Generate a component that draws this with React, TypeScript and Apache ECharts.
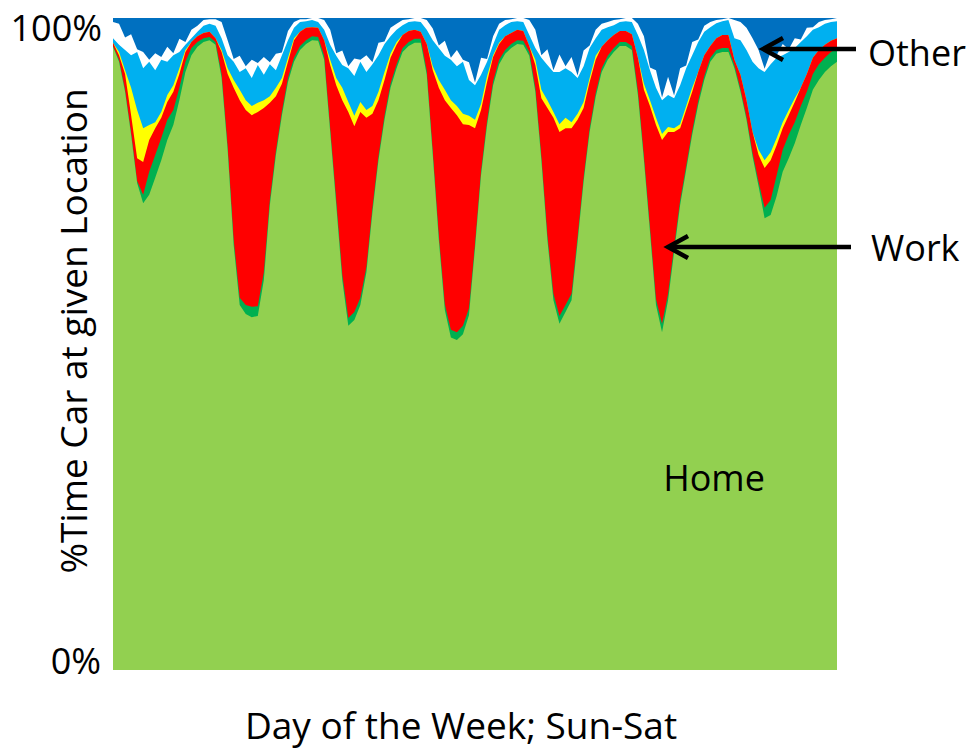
import { useEffect, useRef } from "react";
import * as echarts from "echarts";

// 121 samples spread evenly over one week (Sun-Sat); values are cumulative % (top edge of each band)
const sampleCount = 121;
const categories: string[] = Array.from({ length: sampleCount }, (_, i) => String(i));

const homeTop = [
  95.6, 93.3, 88.7, 82.1, 74.7, 71.6, 72.9, 75.5, 78.2, 81.3,
  83.6, 87.4, 91.7, 94.3, 95.6, 96.3, 96.6, 95.9, 90.8, 79.8,
  65.2, 56.0, 54.6, 54.1, 54.3, 59.8, 71.3, 79.0, 85.1, 90.2,
  93.3, 95.1, 96.0, 96.6, 96.5, 93.6, 82.5, 71.3, 59.8, 52.8,
  53.7, 56.0, 61.0, 70.2, 78.2, 84.4, 89.3, 92.3, 94.8, 95.7,
  96.2, 96.2, 91.3, 79.0, 66.0, 55.2, 51.0, 50.6, 51.5, 54.4,
  64.7, 75.9, 83.6, 89.7, 92.9, 94.5, 95.4, 96.0, 95.9, 94.2,
  88.7, 78.2, 66.0, 56.7, 53.1, 54.9, 56.7, 65.6, 74.9, 82.5,
  87.9, 91.7, 93.6, 94.8, 95.7, 95.7, 95.1, 88.2, 78.2, 67.2,
  56.0, 51.8, 56.7, 64.1, 71.3, 76.7, 82.1, 86.7, 90.5, 93.3,
  94.5, 94.8, 94.8, 92.3, 88.7, 84.4, 78.8, 74.2, 69.3, 69.8,
  72.7, 76.4, 78.5, 80.8, 83.6, 86.2, 89.0, 90.5, 91.7, 92.6,
  93.3,
];

const dkGreenTop = [
  95.7, 93.6, 89.0, 82.4, 75.0, 72.9, 76.4, 79.0, 81.6, 84.4,
  85.9, 89.3, 93.3, 95.4, 96.3, 96.9, 97.1, 96.3, 91.4, 80.4,
  66.0, 57.1, 56.0, 55.7, 55.8, 61.0, 72.1, 79.6, 85.7, 90.8,
  93.9, 95.7, 96.6, 97.2, 97.1, 94.2, 83.1, 72.1, 60.7, 54.0,
  54.9, 57.1, 61.8, 70.9, 78.8, 85.0, 89.9, 92.9, 95.4, 96.3,
  96.8, 96.8, 91.9, 79.6, 66.7, 56.1, 52.2, 51.8, 52.8, 55.5,
  65.3, 76.5, 84.2, 90.3, 93.6, 95.1, 96.0, 96.6, 96.5, 94.8,
  89.3, 78.8, 66.7, 57.7, 54.3, 56.0, 57.7, 66.4, 75.5, 83.1,
  88.5, 92.3, 94.2, 95.4, 96.3, 96.3, 95.7, 88.8, 78.8, 67.9,
  56.9, 53.1, 57.7, 64.9, 72.0, 77.3, 82.7, 87.3, 91.1, 93.9,
  95.1, 95.4, 95.4, 92.8, 89.1, 84.8, 79.3, 74.9, 70.9, 72.1,
  75.9, 79.8, 82.1, 84.0, 86.5, 88.7, 91.4, 92.9, 93.9, 94.8,
  95.4,
];

const workTop = [
  96.2, 94.3, 91.4, 85.1, 78.5, 77.9, 81.3, 83.1, 84.7, 87.1,
  88.7, 91.4, 94.8, 96.3, 97.2, 97.7, 97.9, 96.9, 94.8, 91.4,
  89.3, 87.4, 85.9, 85.1, 85.6, 86.2, 87.0, 88.0, 89.9, 93.3,
  96.6, 97.9, 98.5, 98.6, 98.5, 96.6, 92.8, 89.7, 87.4, 85.6,
  83.4, 85.6, 84.7, 85.3, 87.4, 90.5, 93.9, 95.9, 97.4, 98.0,
  98.2, 97.9, 96.0, 92.0, 89.3, 87.4, 86.2, 85.1, 83.7, 83.6,
  83.1, 85.9, 90.2, 94.0, 96.0, 97.2, 97.7, 98.2, 98.0, 95.7,
  92.8, 87.7, 86.2, 84.7, 82.5, 83.1, 83.1, 84.4, 86.2, 90.2,
  93.6, 95.6, 96.6, 97.4, 98.0, 98.0, 97.5, 93.9, 89.0, 86.5,
  83.6, 81.3, 82.5, 82.5, 83.1, 85.9, 88.7, 91.7, 94.3, 95.7,
  96.9, 97.4, 97.4, 93.6, 91.3, 87.4, 82.5, 79.0, 77.0, 78.2,
  80.5, 83.1, 85.1, 87.1, 89.3, 91.4, 93.9, 95.1, 95.9, 96.5,
  96.9,
];

const yellowTop = [
  96.2, 94.8, 92.0, 89.3, 85.9, 83.1, 83.6, 84.0, 85.6, 88.2,
  89.7, 92.3, 95.1, 96.3, 97.2, 97.7, 97.9, 96.9, 95.1, 92.3,
  90.5, 89.0, 87.4, 86.5, 87.0, 87.4, 88.0, 89.3, 90.8, 93.9,
  96.9, 97.9, 98.5, 98.6, 98.5, 96.6, 93.6, 90.8, 89.3, 87.1,
  85.0, 87.1, 85.9, 86.5, 88.7, 91.7, 94.5, 96.3, 97.4, 98.0,
  98.2, 97.9, 96.0, 92.6, 90.5, 89.0, 87.4, 86.5, 85.3, 85.0,
  84.4, 86.8, 91.1, 94.3, 96.2, 97.2, 97.7, 98.2, 98.0, 95.7,
  93.6, 89.0, 87.4, 85.6, 83.7, 84.7, 84.0, 85.3, 87.1, 90.8,
  94.2, 95.6, 96.6, 97.4, 98.0, 98.0, 97.5, 93.9, 89.9, 87.4,
  84.7, 82.2, 83.3, 83.1, 83.7, 86.5, 89.3, 91.7, 94.3, 95.7,
  96.9, 97.4, 97.4, 93.6, 91.3, 87.4, 82.5, 79.8, 78.2, 79.4,
  81.6, 84.0, 85.9, 87.7, 89.3, 91.4, 93.9, 95.1, 95.9, 96.5,
  96.9,
];

const ltBlueTop = [
  96.9, 95.9, 95.1, 94.3, 94.8, 92.3, 93.3, 92.0, 93.6, 93.3,
  94.3, 94.8, 95.9, 96.9, 97.9, 98.8, 99.1, 98.8, 96.9, 94.3,
  93.3, 91.7, 92.3, 90.8, 92.8, 91.3, 92.9, 92.0, 94.3, 96.6,
  98.5, 99.4, 99.5, 99.7, 99.4, 98.2, 95.9, 94.2, 92.8, 92.3,
  91.1, 93.3, 91.7, 92.9, 94.3, 96.0, 97.2, 98.2, 98.9, 99.4,
  99.5, 99.4, 98.2, 96.6, 95.4, 94.2, 93.6, 92.6, 93.3, 90.5,
  89.7, 91.3, 93.3, 95.9, 98.2, 98.9, 99.4, 99.5, 99.4, 97.4,
  95.4, 93.9, 92.8, 91.7, 91.7, 92.3, 91.7, 90.8, 92.6, 95.4,
  96.9, 98.2, 98.6, 98.9, 99.4, 99.5, 99.4, 97.4, 95.1, 92.0,
  89.3, 87.4, 88.2, 87.7, 89.7, 92.3, 94.3, 96.3, 97.9, 98.6,
  99.2, 99.5, 99.7, 96.9, 96.6, 95.1, 93.3, 92.3, 91.7, 92.9,
  93.9, 94.3, 94.8, 95.4, 96.3, 97.2, 98.2, 98.6, 99.1, 99.4,
  99.5,
];

const whiteTop = [
  99.4, 99.1, 97.0, 97.5, 95.2, 94.8, 93.6, 94.6, 94.0, 95.6,
  94.6, 96.8, 96.3, 98.2, 98.8, 99.7, 99.8, 99.8, 99.4, 96.6,
  93.7, 94.2, 92.6, 93.6, 93.1, 94.0, 93.2, 94.5, 94.7, 98.0,
  99.4, 99.8, 99.8, 100, 100, 99.7, 98.2, 94.6, 95.0, 92.6,
  93.8, 93.6, 94.3, 93.2, 96.2, 96.4, 98.5, 99.1, 99.7, 99.8,
  100, 100, 99.7, 98.4, 95.8, 96.5, 93.9, 95.1, 93.6, 93.2,
  90.1, 93.9, 93.7, 97.2, 99.1, 99.7, 99.8, 100, 100, 99.7,
  98.2, 94.3, 95.2, 92.0, 94.4, 92.6, 94.0, 91.2, 95.0, 95.8,
  98.2, 99.1, 99.4, 99.7, 99.8, 100, 100, 99.1, 97.2, 92.4,
  92.0, 87.8, 91.0, 88.1, 92.3, 92.7, 96.3, 96.7, 98.8, 99.4,
  99.7, 99.8, 100, 99.7, 99.4, 98.5, 96.9, 95.1, 92.2, 94.8,
  94.3, 96.0, 95.2, 96.9, 96.7, 98.5, 98.6, 99.4, 99.7, 99.8,
  100,
];

const yTickLabels = ["100%", "0%"];
const xTitle = "Day of the Week; Sun-Sat";
const yTitle = "%Time Car at given Location";

const FONT = "'Open Sans', 'Noto Sans', sans-serif";

const bands = [
  { name: "White", color: "#FFFFFF", data: whiteTop },
  { name: "Other", color: "#00B0F0", data: ltBlueTop },
  { name: "Yellow", color: "#FFFF00", data: yellowTop },
  { name: "Work", color: "#FF0000", data: workTop },
  { name: "DarkGreen", color: "#00B050", data: dkGreenTop },
  { name: "Home", color: "#92D050", data: homeTop },
];

export default function App() {
  const ref = useRef<HTMLDivElement>(null);
  useEffect(() => {
    if (!ref.current) return;
    const chart = echarts.init(ref.current, undefined, { renderer: "svg" });
    const arrowStyle = { stroke: "#000", lineWidth: 4.5, fill: null as any };
    const txt = (text: string, x: number, y: number, size: number, align: string, extra: any = {}) => ({
      type: "text",
      x,
      y,
      z: 100,
      ...extra,
      style: { text, font: `${size}px ${FONT}`, fill: "#000", textAlign: align, textVerticalAlign: "middle" },
    });
    chart.setOption({
      animation: false,
      backgroundColor: "#fff",
      grid: {
        left: 113,
        top: 18,
        width: 724,
        height: 652,
        show: true,
        backgroundColor: "#0070C0",
        borderWidth: 0,
      },
      xAxis: {
        type: "category",
        data: categories,
        boundaryGap: false,
        axisLine: { show: false },
        axisTick: { show: false },
        axisLabel: { show: false },
        splitLine: { show: false },
      },
      yAxis: {
        type: "value",
        min: 0,
        max: 100,
        axisLine: { show: false },
        axisTick: { show: false },
        axisLabel: { show: false },
        splitLine: { show: false },
      },
      series: bands.map((b) => ({
        name: b.name,
        type: "line",
        data: b.data,
        showSymbol: false,
        symbol: "none",
        lineStyle: { width: 0, opacity: 0 },
        areaStyle: { color: b.color, opacity: 1, origin: "start" },
        silent: true,
      })),
      graphic: [
        txt(yTickLabels[0], 102, 27, 36, "right"),
        txt(yTickLabels[1], 101, 660, 36, "right"),
        txt(yTitle, 72, 331, 37, "center", { rotation: Math.PI / 2 }),
        txt(xTitle, 461, 724, 37, "center"),
        txt("Home", 714, 477, 36, "center"),
        txt("Other", 868, 52, 36, "left"),
        txt("Work", 871, 247, 36, "left"),
        { type: "line", z: 100, shape: { x1: 764, y1: 49, x2: 856, y2: 49 }, style: arrowStyle },
        { type: "polyline", z: 100, shape: { points: [[783, 38], [763, 49], [783, 60]] }, style: arrowStyle },
        { type: "line", z: 100, shape: { x1: 670, y1: 247, x2: 851, y2: 247 }, style: arrowStyle },
        { type: "polyline", z: 100, shape: { points: [[688, 236], [668, 247], [688, 258]] }, style: arrowStyle },
      ],
    });
    return () => chart.dispose();
  }, []);
  return (
    <div
      ref={ref}
      style={{ position: "fixed", left: 0, top: 0, width: 971, height: 749, background: "#fff" }}
    />
  );
}
